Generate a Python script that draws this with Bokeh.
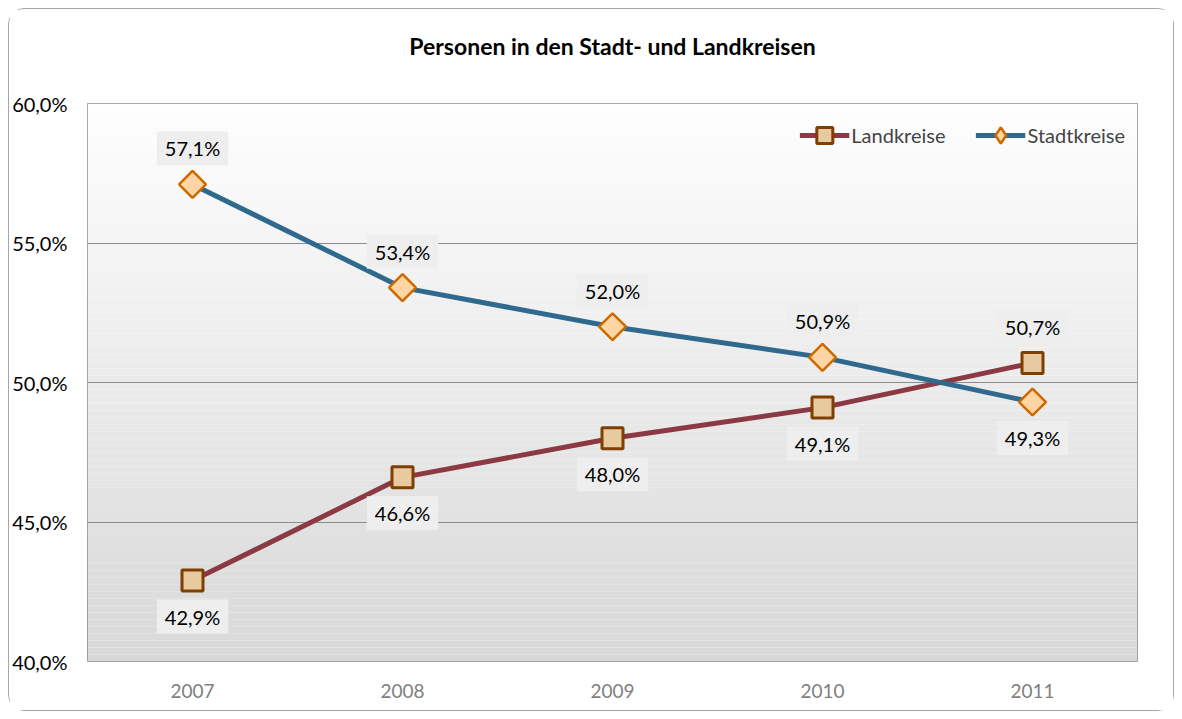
import numpy as np
from bokeh.plotting import figure
from bokeh.models import ColumnDataSource, FixedTicker, CustomJSTickFormatter, BoxAnnotation, Legend, LegendItem, Title
from bokeh.core.properties import value
from bokeh.embed import file_html
from bokeh.resources import INLINE

years = ["2007", "2008", "2009", "2010", "2011"]
landkreise = [42.9, 46.6, 48.0, 49.1, 50.7]
stadtkreise = [57.1, 53.4, 52.0, 50.9, 49.3]
y_ticks = [40, 45, 50, 55, 60]
title = "Personen in den Stadt- und Landkreisen"

FONT = "Lato"

def fmt(v):
    return ("%.1f" % v).replace(".", ",") + "%"

# label above/below: the higher series gets its label above
land_off = [36 if l < s else -36 for l, s in zip(landkreise, stadtkreise)]
stadt_off = [-36 if s > l else 36 for l, s in zip(landkreise, stadtkreise)]

src_l = ColumnDataSource(dict(x=years, y=landkreise, t=[fmt(v) for v in landkreise], off=land_off))
src_s = ColumnDataSource(dict(x=years, y=stadtkreise, t=[fmt(v) for v in stadtkreise], off=stadt_off))

p = figure(width=1166, height=703, x_range=years, y_range=(y_ticks[0], y_ticks[-1]),
           output_backend="svg", toolbar_location=None,
           min_border_left=78, min_border_right=38, min_border_top=94, min_border_bottom=51)
p.styles = {"border": "1.5px solid #a6a6a6", "border-radius": "16px", "margin-left": "8px", "margin-top": "8px"}
p.background_fill_color = "white"
p.border_fill_color = "white"
p.outline_line_color = "#8c8c8c"
p.outline_line_width = 1

# spacer between title and frame, so the title sits higher
p.add_layout(Title(text=" ", text_font_size="1px", standoff=20), "above")

p.title.text = title
p.title.align = "center"
p.title.text_font = FONT
p.title.text_font_size = "23px"
p.title.text_font_style = "bold"
p.title.text_color = "black"
p.title.offset = 0
p.title.standoff = 41

# gradient background for plot area
n = 80
edges = np.linspace(y_ticks[0], y_ticks[-1], n + 1)
for i in range(n):
    frac = (i + 0.5) / n  # 0 bottom, 1 top
    c = int(round(0xd8 + (0xfe - 0xd8) * frac))
    p.add_layout(BoxAnnotation(bottom=edges[i], top=edges[i + 1], fill_color="#%02x%02x%02x" % (c, c, c),
                               fill_alpha=1, line_alpha=0, level="image"))

p.xgrid.grid_line_color = None
p.ygrid.grid_line_color = "#8c8c8c"
p.ygrid.grid_line_width = 1
p.yaxis.ticker = FixedTicker(ticks=y_ticks)
p.yaxis.formatter = CustomJSTickFormatter(code="return tick.toFixed(1).replace('.', ',') + '%';")
for ax in (p.xaxis, p.yaxis):
    ax.axis_line_color = None
    ax.major_tick_line_color = None
    ax.minor_tick_line_color = None
    ax.major_label_text_font = FONT
p.yaxis.major_label_text_font_size = "20px"
p.xaxis.major_label_text_font_size = "19px"
p.yaxis.major_label_text_color = "black"
p.yaxis.major_label_standoff = 14
p.xaxis.major_label_text_color = "#7f7f7f"
p.xaxis.major_label_standoff = 16

L_COLOR, L_FILL, L_EDGE = "#8b3a44", "#e8caa0", "#7f3f00"
S_COLOR, S_FILL, S_EDGE = "#2f6a8e", "#ffd6a3", "#cc6a00"

l_line = p.line("x", "y", source=src_l, line_color=L_COLOR, line_width=5)
l_mark = p.scatter("x", "y", source=src_l, marker="square", size=21, fill_color=L_FILL,
                   line_color=L_EDGE, line_width=3)
s_line = p.line("x", "y", source=src_s, line_color=S_COLOR, line_width=5)
# diamond used for the legend (legend ignores marker angle); hidden under the rotated squares
s_leg = p.scatter("x", "y", source=src_s, marker="diamond", size=18, fill_color=S_FILL,
                  line_color=S_EDGE, line_width=2.5)
s_mark = p.scatter("x", "y", source=src_s, marker="square", angle=np.pi / 4, size=19, fill_color=S_FILL,
                   line_color=S_EDGE, line_width=2.5)

for src in (src_l, src_s):
    p.text("x", "y", text="t", source=src, y_offset="off", text_align="center", text_baseline="middle",
           text_font=value(FONT), text_font_size="20px", text_color="black",
           background_fill_color="#eeeeee", padding=(8, 5), border_line_color=None)

legend = Legend(items=[LegendItem(label="Landkreise", renderers=[l_line, l_mark]),
                       LegendItem(label="Stadtkreise", renderers=[s_line, s_leg])],
                location="top_right", orientation="horizontal",
                background_fill_alpha=0, border_line_color=None,
                label_text_font=FONT, label_text_font_size="20px",
                glyph_width=50, glyph_height=40, label_standoff=2, spacing=30,
                margin=12, padding=2)
p.add_layout(legend)

open("out.html", "w").write(file_html(p, INLINE))
